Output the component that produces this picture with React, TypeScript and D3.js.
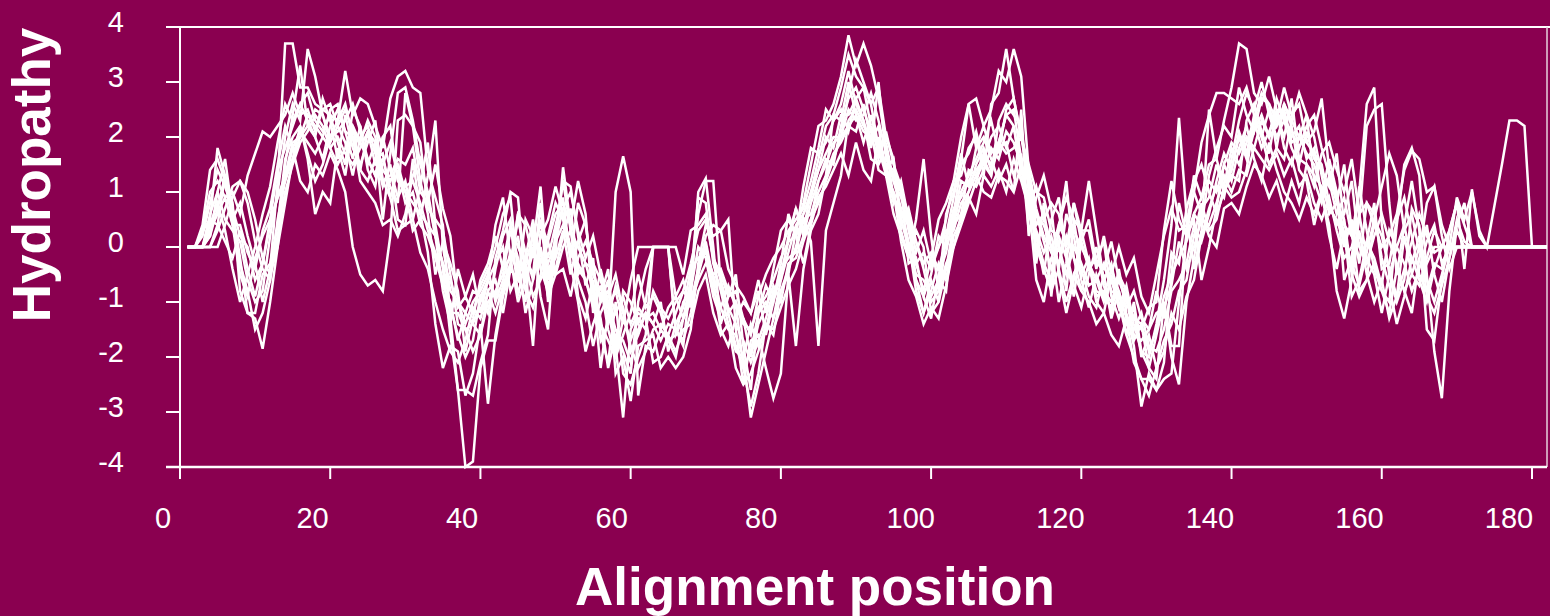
import React from "react";
import * as d3 from "d3";

// Hydropathy profiles of aligned sequences, one value per alignment position (1..182)
const seqA = [
  0, 0, 0.4, 1.4, 1.6, 1.2, 0.5, 0.8, 0.2, -0.3,
  -1.0, -0.4, 1.2, 3.7, 3.7, 2.9, 2.9, 2.6, 2.5, 2.4,
  2.3, 3.2, 2.4, 2.7, 2.6, 2.2, 1.8, 2.7, 3.1, 3.2,
  2.9, 2.8, 1.4, 0.9, 0.4, -1.3, -2.6, -2.6, -2.7, -2.1,
  -1.6, -0.2, 0.3, 1.0, 0.9, -0.6, 0.0, 1.1, -0.6, 0.2,
  1.2, 1.1, 0.2, -0.7, -0.2, -1.6, -2.1, -1.0, -2.3, -2.5,
  -2.0, -1.6, 0, 0, 0, -1.5, -1.8, -0.6, 0.6, 1.2,
  1.2, -0.7, -1.2, -1.0, -2.2, -2.9, -2.3, -1.4, -1.6, -0.8,
  -0.5, 0.3, 0.8, 1.5, 2.2, 2.3, 2.6, 3.1, 3.85, 3.3,
  3.7, 3.3, 2.7, 1.9, 1.2, 0.7, 0.1, -0.8, -1.2, -0.6,
  -1.0, 0.2, 0.9, 1.6, 2.6, 2.7, 2.2, 2.5, 3.2, 3.0,
  3.6, 3.1, 1.4, -0.3, 0.8, -0.9, 0.4, 0.9, 0.5, -0.4,
  -0.9, -1.1, -0.5, -1.3, -0.8, -1.6, -2.0, -2.4, -2.4, -2.6,
  -2.1, -0.5, 0.8, 0.2, 1.0, 1.9, 2.4, 2.8, 2.8, 2.7,
  2.6, 2.9, 2.4, 2.0, 2.5, 2.2, 2.6, 2.3, 2.0, 1.9,
  2.1, 2.7, 1.4, 1.0, 0.2, -0.4, 0.5, 2.2, 2.5, 2.6,
  0.8, -0.5, 0.4, 1.2, 0.3, -1.5, -1.7, -0.6, 0.3, 0.8,
  0.4, 0, 0, 0, 0, 0, 0, 0, 0, 0,
  0, 0,
];

const seqB = [
  0, 0, 0, 0.5, 1.8, 1.3, 0.7, -0.2, -1.2, -1.3,
  -1.85, -1.0, 0.0, 1.5, 2.4, 3.3, 2.2, 2.0, 1.6, 2.2,
  2.5, 2.1, 1.6, 2.2, 1.5, 1.9, 0.5, 1.7, 2.8, 2.9,
  2.3, 1.5, 1.0, 0.2, -0.3, -1.1, -1.6, -2.0, -1.7, -0.9,
  -1.2, -0.4, 0.2, 0.5, -0.9, -0.2, -0.5, 0.8, -1.0, -0.1,
  1.45, 0.4, -0.9, -1.3, -0.6, -1.7, -1.4, 1.0, 1.65, 1.0,
  -2.7, -1.8, -1.9, -1.5, -1.7, -2.0, -1.3, -0.6, 0.9, 0.8,
  -0.3, -0.8, -1.4, -1.9, -2.0, -3.1, -2.5, -1.9, -1.3, -0.6,
  0.2, 0.7, 0.3, 1.0, 1.6, 2.2, 2.4, 2.9, 3.5, 3.1,
  2.9, 2.6, 1.8, 1.4, 1.6, 0.5, 0.0, -0.6, -0.9, -1.3,
  -0.5, -0.1, 0.6, 1.5, 1.7, 2.1, 1.5, 1.3, 2.3, 2.6,
  2.4, 2.2, 1.0, 0.2, -0.3, -0.6, 0.3, 1.2, -0.2, -0.8,
  -0.3, -1.0, -1.2, -0.5, -1.1, -0.7, -1.4, -1.9, -2.2, -1.6,
  -1.0, -1.8, -1.8, 0.3, 1.3, 0.9, 1.5, 1.6, 2.3, 2.9,
  3.7, 3.6, 2.8, 2.6, 3.1, 2.5, 2.4, 2.0, 2.2, 1.6,
  1.8, 0.9, 1.6, 1.0, -0.6, -0.2, 1.1, 0.3, -0.4, -0.8,
  -1.0, 0.4, 1.5, 1.8, 1.3, -0.5, -1.9, -2.75, -0.8, 0.4,
  0.8, 0, 0, 0, 0, 0, 0, 0, 0, 0,
  0, 0,
];

const seqC = [
  0, 0, 0.3, 1.0, 1.2, 0.9, 1.0, 0.6, 1.3, 1.7,
  2.1, 2.0, 2.2, 2.4, 2.8, 2.4, 2.5, 2.1, 2.5, 2.6,
  2.2, 1.9, 1.3, 2.0, 2.2, 1.7, 1.1, 1.5, 0.5, 0.4,
  1.6, 0.6, -0.1, -1.4, -2.2, -1.8, -1.9, -2.7, -2.3, -1.4,
  -2.85, -1.6, -0.8, -0.3, 0.6, -0.4, -1.8, 0.3, -0.2, 0.4,
  0.9, -0.3, -1.0, -1.9, -1.4, -1.0, -0.6, -2.3, -2.0, -2.8,
  -1.8, -1.7, -1.6, -2.2, -2.0, -2.2, -2.0, -1.5, -0.3, 0.4,
  0.2, 0.3, 0.5, -1.5, -2.5, -1.7, -1.6, -2.2, -2.75, -2.3,
  -0.5, -1.8, -0.4, 0.3, 0.6, 1.3, 2.4, 2.3, 3.0, 2.4,
  1.9, 2.4, 1.8, 1.3, 0.6, 0.2, -0.2, 0.3, 0.0, -1.2,
  -1.0, -0.4, 0.4, 1.0, 1.3, 1.6, 1.9, 2.3, 1.7, 2.5,
  2.7, 2.0, 1.2, 0.6, 0.4, 0.0, -1.0, -0.3, 0.8, 0.1,
  -0.4, -0.2, 0.1, -0.9, -1.3, -0.9, -1.7, -1.4, -2.2, -2.4,
  -1.0, -2.0, -2.5, -1.0, -0.2, 0.7, 0.9, 1.5, 1.0, 1.4,
  2.1, 1.7, 2.4, 2.0, 1.5, 1.8, 2.6, 2.2, 1.4, 1.2,
  0.4, 1.0, 0.2, -0.4, 0.3, -0.9, -0.6, 0.1, 0.8, -0.4,
  -0.3, 0.5, 0.9, 0.2, -0.5, -0.8, -0.3, -0.4, 0, 0,
  0, 0, 0, 0, 0, 0, 0, 0, 0, 0,
  0, 0,
];

const seqD = [
  0, 0, 0, 0.2, 0.7, 1.3, 0.4, 0.4, -0.1, -0.4,
  0.3, 0.7, 1.5, 2.2, 1.8, 1.2, 1.0, 1.5, 1.3, 1.7,
  1.4, 1.0, 0.0, -0.5, -0.7, -0.6, -0.8, 0.2, 2.3, 2.4,
  2.2, 1.2, 0.6, -0.5, 0.1, -0.3, -0.8, -1.9, -1.3, -0.6,
  -0.3, 0.2, -0.4, -0.2, 0.2, -0.8, -1.1, -0.5, 0.1, 0.6,
  0.8, 0.4, 1.2, 0.6, -1.2, -0.4, -1.0, -1.5, -1.9, -2.3,
  -1.0, -0.4, 0, 0, 0, -1.6, -1.3, -0.9, 1.0, 1.25,
  0.0, -1.4, -0.9, -0.5, -1.8, -2.6, -1.2, -0.7, -1.0, -0.3,
  0.6, 0.2, 1.1, 1.8, 1.7, 1.9, 2.3, 2.5, 2.1, 2.7,
  2.3, 1.6, 1.5, 1.8, 0.9, 0.6, 0.4, -0.3, -0.8, -0.2,
  0.5, 0.8, 1.2, 2.0, 2.6, 1.8, 2.0, 1.6, 1.2, 1.5,
  1.0, 2.5, 0.2, 0.9, 1.3, 0.7, -0.5, -1.2, -0.6, 0.3,
  1.2, 0.3, -0.6, -0.3, -1.0, -1.6, -1.0, -1.9, -2.0, -1.4,
  -0.6, 0.4, 2.35, 0.6, -0.4, 0.3, 2.5, 1.6, 1.1, 0.9,
  1.0, 1.4, 2.3, 2.8, 2.6, 1.8, 1.6, 2.3, 2.8, 2.4,
  2.0, 1.3, 0.6, 0.8, 1.5, 0.3, -0.8, -0.6, 0.5, 1.1,
  1.7, 1.3, 0.3, 0.6, -0.1, 0.8, 1.1, 0.2, -0.4, 0,
  0, 0, 0, 0, 0, 0, 0, 0, 0, 0,
  0, 0,
];

const seqE = [
  0, 0, 0, 0, 0.4, 1.3, 0.8, -0.8, -1.2, -1.2,
  -0.5, -0.3, 0.4, 1.6, 2.0, 2.2, 1.6, 0.6, 1.0, 0.8,
  1.8, 1.3, 2.2, 1.4, 1.2, 1.6, 1.7, 0.9, 0.3, 0.4,
  0.5, 1.1, 1.9, 0.4, -0.4, -1.6, -2.6, -4.0, -3.9, -2.2,
  -1.7, -1.7, -0.9, -0.4, 0.6, 0.4, -0.2, 0.5, -0.4, -0.2,
  0.3, -0.5, 0.1, 0.5, -0.8, -1.3, -2.2, -1.6, -1.7, -2.1,
  -1.5, -1.2, -1.4, -1.0, -1.9, -1.4, -1.1, -0.4, -0.2, -0.1,
  -0.5, -1.1, -1.5, -1.6, -2.0, -1.4, -1.8, -1.5, -0.9, -0.4,
  -0.2, -0.1, 0.5, 0.1, -1.8, 0.3, 0.8, 1.3, 2.3, 2.5,
  2.2, 2.0, 1.6, 2.1, 1.5, 1.1, -0.3, -0.2, -0.9, -0.5,
  0.2, 0.0, 0.4, 0.6, 1.4, 1.3, 1.0, 0.9, 1.3, 1.2,
  1.0, 1.5, 0.8, -0.6, -1.0, -0.2, 0.1, -0.8, 0.5, 0.3,
  -0.3, -0.8, -0.9, -1.1, -0.4, -1.2, -1.8, -2.9, -2.3, -2.6,
  -2.4, -2.3, -1.0, 0.2, 0.5, -0.6, 0.0, 0.7, 1.5, 1.2,
  1.8, 2.2, 1.6, 1.2, 1.9, 1.4, 1.0, 0.8, 0.5, 0.9,
  0.6, 1.0, 0.4, -0.8, -1.3, -0.6, 0.3, -0.5, -1.0, -0.6,
  -1.3, -0.9, 0.2, -0.5, -0.7, -0.2, 0.3, 0.0, 0, 0,
  0, 0, 0, 0, 0, 0, 0, 0, 0, 0,
  0, 0,
];

const seqF = [
  0, 0, 0, 0.6, 1.0, 0.5, 0.3, 0.1, -0.6, -1.0,
  -0.8, 0.2, 1.0, 2.0, 2.6, 2.3, 3.6, 3.1, 2.4, 2.0,
  2.1, 2.3, 2.6, 2.1, 1.6, 1.3, 2.0, 2.2, 1.2, 1.0,
  0.3, 0.5, 1.3, 2.3, 0.0, -0.8, -1.0, -1.2, -1.4, -1.6,
  -0.8, -0.6, -1.2, -0.4, -0.6, 0.5, 0.2, -0.9, -1.5, 0.3,
  1.2, 0.3, 0.0, -0.3, -0.8, -2.2, -1.2, -1.8, -3.1, -1.5,
  -1.2, -1.3, -2.1, -2.0, -1.6, -1.2, -0.8, -1.0, -0.4, 0.1,
  -0.6, -1.5, -1.8, -1.3, -1.0, -1.2, -0.8, -1.6, -1.0, -0.5,
  0.1, 0.7, 0.2, 0.5, 1.2, 1.5, 1.9, 2.0, 2.8, 3.4,
  3.0, 2.6, 2.9, 2.0, 1.6, 0.3, -0.2, 0.5, 1.6, 0.2,
  -0.8, 0.6, 1.0, 1.7, 1.1, 1.8, 2.2, 1.7, 1.9, 2.4,
  2.5, 1.6, 0.6, 0.2, -0.5, 0.5, 0.9, -0.1, -0.7, -1.1,
  -0.5, 0.0, -0.7, -1.2, -0.5, -0.8, -1.6, -1.7, -1.5, -0.8,
  -1.3, -0.1, -0.3, 0.7, 1.2, 1.5, 1.0, 0.6, 1.0, 1.3,
  1.2, 2.3, 2.6, 2.1, 1.7, 2.5, 1.8, 1.5, 2.0, 2.4,
  1.2, 0.8, 1.3, 0.9, 0.0, 0.5, -0.3, 0.8, 0.6, -0.2,
  -0.7, -1.4, -0.9, -0.2, -0.6, -1.0, -0.4, 0.0, 0.3, 0.8,
  -0.4, 1.05, 0.2, 0, 0, 0, 0, 0, 0, 0,
  0, 0,
];

const seqG = [
  0, 0, 0.2, 0.8, 1.4, 1.1, 0.7, 0.2, 0.0, -0.6,
  -0.3, 0.4, 0.9, 1.3, 1.9, 2.0, 2.2, 2.5, 2.4, 1.9,
  2.2, 2.5, 2.1, 1.9, 2.3, 2.0, 1.2, 1.3, 1.6, 1.5,
  1.8, 1.0, 0.8, 1.5, 0.7, 0.2, -1.0, -1.4, -1.0, -0.8,
  -0.5, 0.0, 0.6, 0.9, -0.5, -1.0, 0.4, -0.3, 0.2, 0.8,
  0.5, -0.2, 0.8, 0.4, -0.5, -0.9, -0.4, -1.9, -0.8, -1.0,
  -1.4, -1.0, 0, 0, 0, 0, -0.5, 0.3, 0.4, 0.6,
  -0.2, -0.5, -0.9, -0.8, -1.3, -1.6, -0.9, -0.5, -0.2, 0.0,
  0.3, 0.5, 0.7, 1.2, 1.8, 2.5, 2.3, 2.6, 3.2, 2.6,
  2.3, 1.8, 3.0, 1.6, 1.3, 1.0, 0.6, -0.1, 0.3, -0.3,
  0.0, 0.5, 1.2, 1.3, 1.8, 2.0, 1.3, 2.6, 2.8, 3.6,
  2.7, 2.0, 1.5, 1.0, 0.9, 0.3, 0.2, -0.2, -0.9, 0.1,
  0.5, -0.3, -0.4, 0.1, -0.6, -0.9, -1.3, -1.5, -1.1, -1.0,
  0.3, 1.2, 0.5, 0.2, 0.6, 0.4, 1.3, 1.8, 2.2, 2.0,
  2.9, 2.4, 2.1, 2.7, 2.6, 2.3, 2.9, 2.4, 2.6, 1.9,
  1.7, 1.5, 0.8, 0.4, 0.6, 1.2, 0.0, -0.3, 0.2, 0.6,
  0.1, -0.3, -0.8, -1.2, -0.2, 0.4, -0.5, -1.0, -0.2, 0.3,
  0, 0, 0, 0, 0, 0, 0, 0, 0, 0,
  0, 0,
];

const seqH = [
  0, 0, 0, 0.3, 0.6, 0.9, 0.4, -0.5, -0.9, -0.2,
  0.2, 0.5, 1.4, 1.8, 2.2, 2.6, 2.3, 2.0, 2.7, 2.3,
  1.6, 2.4, 1.8, 1.5, 1.9, 2.3, 1.2, 0.9, 1.4, 0.8,
  1.0, 0.4, 0.2, -0.2, -0.7, -1.0, -1.7, -1.2, -0.8, -0.9,
  -0.6, -0.3, 0.0, -0.8, -0.5, -0.2, 0.5, -0.4, -0.8, 0.1,
  0.7, 1.0, 0.3, -0.2, 0.2, -0.5, -1.3, -0.7, -1.1, -1.9,
  -1.6, -1.2, -1.4, -1.7, -1.4, -1.5, -1.7, -1.2, -0.5, 0.0,
  -0.8, -1.1, -0.7, -1.1, -1.3, -2.0, -1.4, -1.1, -0.7, -1.0,
  -0.3, -0.2, 0.2, 0.8, 1.2, 1.6, 1.5, 2.2, 2.7, 2.9,
  2.5, 2.1, 1.4, 1.3, 1.0, 0.4, 0.7, 0.1, -0.4, -1.0,
  -0.8, -0.3, 0.0, 0.6, 1.0, 1.5, 1.8, 1.4, 1.8, 1.9,
  1.3, 1.7, 0.3, 0.6, 0.1, -0.4, 0.0, -0.5, 0.0, -0.3,
  -0.7, -0.6, -1.0, -0.6, -1.1, -1.4, -1.1, -2.0, -1.6, -2.2,
  -1.7, -1.4, -0.8, -0.6, 0.2, 0.8, 0.3, 0.5, 1.1, 1.8,
  1.5, 1.9, 2.3, 1.8, 2.1, 2.4, 2.0, 2.7, 1.6, 1.5,
  1.3, 1.1, 0.7, 0.5, 0.1, -0.3, -0.7, -0.1, 0.5, 0.2,
  -0.4, -0.9, -0.4, 0.1, 0.6, 0.2, -0.1, 0, 0, 0,
  0, 0, 0, 0, 0, 0, 0, 0, 0, 0,
  0, 0,
];

const seqI = [
  0, 0, 0, 0.2, 1.0, 1.6, 0.6, -0.3, -0.8, -1.5,
  -1.2, -0.6, 0.5, 1.2, 1.8, 2.1, 1.9, 1.7, 2.0, 2.5,
  2.6, 2.1, 2.0, 1.4, 2.1, 1.5, 1.6, 1.1, 0.8, 2.8,
  2.2, 1.9, 0.7, 0.5, 0.3, -0.5, -1.4, -1.5, -1.9, -1.6,
  -1.0, -0.8, -0.5, 0.3, -0.2, -1.2, -0.6, 0.0, -0.7, -0.4,
  0.2, 0.7, -0.4, -0.6, -1.0, -1.4, -1.7, -2.0, -1.6, -1.2,
  -0.5, -1.1, -0.9, -1.2, -1.7, -1.6, -1.0, -0.8, 0.0, -0.2,
  -0.9, -1.3, -1.2, -1.8, -2.2, -1.9, -1.2, -1.0, -1.3, -0.8,
  -0.4, 0.0, 0.6, 1.0, 1.4, 2.0, 1.8, 2.4, 2.4, 2.7,
  2.9, 2.2, 1.7, 1.5, 0.9, 0.5, 0.0, -0.5, -0.6, -0.9,
  -0.6, -0.8, 0.5, 1.2, 1.1, 1.4, 1.6, 2.0, 2.2, 1.8,
  2.2, 1.3, 0.7, 0.3, -0.1, 0.2, -0.4, 0.6, 0.2, -0.6,
  -1.1, -0.5, -0.9, -0.4, -0.8, -1.3, -1.5, -1.2, -1.8, -1.9,
  -1.5, -0.8, -0.6, -0.3, 0.4, 0.1, 0.6, 1.2, 1.7, 1.4,
  2.0, 1.6, 2.1, 2.4, 2.0, 2.7, 2.3, 1.8, 1.5, 2.1,
  1.6, 1.4, 1.1, 1.7, 0.4, 0.2, 1.0, 2.6, 2.9, 0.4,
  -0.5, -1.0, -0.6, 0.7, 0.4, -0.9, -1.2, -0.7, -0.2, 0.5,
  0.1, 0, 0, 0, 0, 0, 0, 0, 0, 0,
  0, 0,
];

const seqJ = [
  0, 0, 0, 0, 0.3, 0.7, 1.1, 1.2, 0.8, 0.1,
  -0.4, -0.6, 0.2, 1.0, 1.5, 1.9, 2.1, 2.4, 2.2, 1.8,
  1.5, 1.8, 2.2, 1.9, 1.6, 1.3, 1.5, 1.9, 1.3, 1.1,
  1.2, 0.8, 0.3, -0.1, -0.6, -1.2, -1.2, -1.5, -1.4, -1.0,
  -0.6, -0.9, -0.3, 0.4, 0.0, -0.3, -0.9, -0.6, -0.3, 0.1,
  0.4, -0.1, -0.3, -0.6, -1.1, -0.7, -1.5, -2.0, -1.3, -1.7,
  -1.3, -1.5, -0.8, -1.1, -1.3, -1.0, -0.8, -0.3, 0.3, 0.5,
  -0.2, -0.6, -1.1, -1.4, -1.7, -2.1, -1.7, -1.3, -0.8, -0.6,
  -0.1, 0.4, 0.6, 0.9, 1.4, 1.7, 2.0, 2.0, 2.5, 2.3,
  2.4, 2.8, 2.3, 1.7, 1.2, 0.9, 0.4, 0.1, -0.3, -0.1,
  -0.4, 0.1, 0.7, 0.9, 1.2, 1.1, 1.4, 1.8, 1.6, 2.1,
  1.9, 1.5, 1.2, 0.4, 0.6, 0.0, -0.3, 0.2, -0.2, -0.5,
  -0.2, -0.9, -0.8, -1.0, -0.6, -1.0, -1.3, -1.4, -1.9, -1.5,
  -0.9, -0.5, -0.2, 0.1, 0.6, 0.9, 1.2, 1.0, 1.5, 1.9,
  1.7, 2.0, 1.8, 2.3, 2.0, 2.2, 2.5, 1.9, 2.0, 1.7,
  1.5, 1.0, 1.2, 0.6, 0.9, 0.2, -0.2, 0.1, -0.2, -0.7,
  0.3, 0.0, -0.3, -0.8, -0.4, 0.1, 0.4, -0.3, 0, 0,
  0, 0, 0, 0, 0, 0, 0, 0, 0, 0,
  0, 0,
];

const seqK = [
  0, 0, 0, 0, 0, 0.4, 0.9, 1.2, 1.0, 0.5,
  -0.2, -0.5, 0.0, 0.8, 1.6, 2.0, 2.4, 2.2, 2.0, 1.8,
  2.0, 1.7, 1.5, 1.8, 2.1, 1.9, 1.4, 1.2, 1.5, 1.0,
  0.8, 0.6, 0.4, 0.2, -0.3, -0.6, -1.1, -0.9, -1.2, -0.7,
  -0.4, -1.0, -0.6, -0.1, -0.5, -0.3, 0.2, -0.1, -0.9, -0.5,
  0.0, 0.3, -0.5, -0.3, -0.4, -1.0, -0.8, -1.2, -0.9, -1.4,
  -1.1, -1.3, -1.2, -1.5, -1.1, -0.9, -1.3, -1.0, -0.6, -0.3,
  -0.5, -0.4, -0.8, -1.0, -1.4, -1.5, -1.1, -0.9, -0.6, -0.2,
  0.1, 0.2, 0.5, 0.6, 1.0, 1.3, 1.7, 1.9, 2.2, 2.4,
  2.1, 2.0, 1.9, 1.5, 1.4, 1.0, 0.3, -0.3, -0.1, -0.4,
  0.0, 0.3, 0.3, 0.8, 1.0, 1.3, 1.7, 1.5, 1.9, 1.7,
  1.8, 2.0, 1.4, 0.7, 0.2, -0.1, 0.4, 0.1, 0.3, 0.0,
  -0.3, -0.6, -0.3, -0.8, -0.9, -1.1, -0.8, -1.3, -1.5, -1.2,
  -1.1, -0.7, 0.1, -0.4, 0.0, 0.5, 0.4, 0.8, 1.3, 1.0,
  1.4, 1.3, 1.8, 1.6, 1.4, 1.7, 1.3, 1.6, 1.1, 1.3,
  0.8, 0.5, 0.9, 0.3, -0.2, 0.0, 0.6, 0.8, 0.4, 0.0,
  0.2, 0.6, 1.4, 1.75, 1.6, 1.0, 1.1, 0.4, 0.0, 0.9,
  0.5, 1.0, 0.3, 0.0, 0.75, 1.5, 2.3, 2.3, 2.2, 0,
  0, 0,
];

const seqL = [
  0, 0, 0.3, 0.5, 0.4, 0.1, -0.2, 0.3, -0.4, -0.9,
  -0.3, 0.5, 0.9, 1.2, 1.6, 2.2, 1.7, 1.2, 1.5, 2.0,
  2.3, 2.6, 2.0, 1.2, 1.0, 0.8, 0.4, 0.5, 0.2, 0.6,
  1.3, 1.6, 0.9, 0.2, -0.8, -1.4, -0.4, -0.9, -0.5, -1.2,
  -0.6, 0.4, 0.9, -0.2, -1.0, -0.6, -0.1, 0.4, 0.1, -0.5,
  -0.4, -0.9, -0.2, 0.1, -0.3, -0.6, -1.1, -0.8, -1.4, -0.6,
  0, 0, 0, 0, 0, -0.9, -0.6, -1.1, -0.5, 0.2,
  0.4, 0.3, -0.4, -0.7, -0.9, -1.2, -0.6, -1.2, -0.4, 0.3,
  0.5, 0.2, -0.3, 0.4, 0.9, 1.1, 1.4, 1.7, 1.3, 1.9,
  1.4, 1.2, 2.0, 1.4, 0.8, 1.2, 0.5, -0.6, -1.2, -0.8,
  -0.3, -0.6, 0.2, 0.5, 0.9, 0.6, 1.3, 1.1, 1.4, 1.0,
  1.6, 1.2, 0.7, 1.1, 0.5, 0.8, 0.6, 0.0, 0.8, 0.3,
  0.3, -0.4, 0.2, -0.5, 0.0, -0.5, -0.2, -0.9, -1.2, -0.5,
  0.2, 0.7, 0.3, 0.4, 1.0, 0.6, 0.2, 0.0, 0.7, 0.8,
  0.6, 1.1, 1.5, 1.3, 0.9, 1.2, 0.7, 1.2, 0.8, 1.5,
  1.1, 1.7, 1.9, 1.4, 1.0, 1.6, 0.6, -0.2, -0.5, -1.2,
  -0.5, 0.0, 0.4, -0.3, 0.2, -0.6, -1.0, -0.5, 0.0, 0,
  0, 0, 0, 0, 0, 0, 0, 0, 0, 0,
  0, 0,
];

const seqM = [
  0, 0, 0, 0.4, 0.8, 0.3, -0.4, -1.0, -0.5, 0.0,
  0.6, 1.1, 1.9, 2.6, 2.3, 2.6, 2.8, 2.3, 2.1, 2.4,
  1.9, 1.5, 2.5, 2.2, 1.4, 1.1, 2.0, 1.4, 0.9, 1.2,
  0.5, -0.1, -0.4, -1.0, -1.5, -1.9, -2.1, -1.7, -1.1, -1.3,
  -0.8, -1.2, -0.7, -0.3, 0.5, -0.1, -0.6, 0.2, 0.5, 1.1,
  0.6, 0.0, -0.6, -1.0, -1.8, -1.2, -0.9, -0.5, -1.2, -1.8,
  -2.2, -1.9, -1.5, -1.4, -1.6, -1.9, -1.5, -1.4, -0.8, -0.5,
  -1.2, -1.6, -1.4, -2.2, -2.5, -2.3, -1.9, -1.4, -1.5, -1.1,
  -0.7, -0.4, 0.1, 0.5, 0.8, 1.2, 1.6, 2.0, 2.2, 2.1,
  2.6, 1.9, 2.2, 1.3, 1.0, 0.1, -0.6, -0.9, -1.4, -1.1,
  -1.3, -0.7, 0.0, 0.4, 0.8, 1.2, 1.6, 1.3, 1.9, 2.4,
  2.2, 1.4, 0.9, 0.0, -0.4, -0.8, -0.4, -1.0, -0.5, -0.8,
  -1.0, -1.4, -1.2, -1.6, -1.8, -1.3, -2.1, -2.4, -2.7, -2.2,
  -1.9, -1.2, -1.5, -0.9, -0.6, 0.2, 0.7, 1.1, 0.9, 1.6,
  2.3, 2.8, 2.5, 3.0, 2.4, 2.0, 2.3, 2.1, 1.8, 2.2,
  2.4, 1.8, 1.3, 0.8, 0.5, -0.5, -0.9, -0.6, -0.3, -0.8,
  -1.2, -0.4, -0.8, -0.5, 0.0, -0.3, 0, 0, 0, 0,
  0, 0, 0, 0, 0, 0, 0, 0, 0, 0,
  0, 0,
];

const profiles = [seqA, seqB, seqC, seqD, seqE, seqF, seqG, seqH, seqI, seqJ, seqK, seqL, seqM];
const yTicks = [4, 3, 2, 1, 0, -1, -2, -3, -4];
const xTicks = [0, 20, 40, 60, 80, 100, 120, 140, 160, 180];

const W = 1550;
const H = 616;
const BG = "#8A0050";
const FONT = "'Liberation Sans', Arial, sans-serif";

export default function App() {
  const left = 180;
  const right = 1547;
  const top = 27;
  const bottom = 467;

  const x = d3.scaleLinear().domain([0, 182]).range([left, right]);
  const y = d3.scaleLinear().domain([-4, 4]).range([bottom, top]);

  const line = d3
    .line<number>()
    .x((_, i) => x(i + 1))
    .y((v) => y(v));

  return (
    <svg
      width={W}
      height={H}
      style={{ position: "absolute", left: 0, top: 0, display: "block" }}
    >
      <rect x={0} y={0} width={W} height={H} fill={BG} />

      {/* plot frame */}
      <line x1={166} x2={W} y1={top} y2={top} stroke="#fff" strokeWidth={2} />
      <line x1={right} x2={right} y1={top} y2={bottom} stroke="#e6d0dc" strokeWidth={1.5} />

      {/* profiles */}
      <g fill="none" stroke="#fff" strokeWidth={2.5} strokeLinejoin="miter">
        {profiles.map((p, i) => (
          <path key={i} d={line(p) || ""} />
        ))}
      </g>

      {/* y axis */}
      <line x1={left} x2={left} y1={top} y2={bottom + 12} stroke="#fff" strokeWidth={2} />
      {yTicks.map((t) => (
        <g key={t}>
          <line x1={166} x2={left} y1={y(t)} y2={y(t)} stroke="#fff" strokeWidth={2} />
          <text
            x={124}
            y={y(t) + 5}
            textAnchor="end"
            fill="#fff"
            fontFamily={FONT}
            fontSize={29}
          >
            {t}
          </text>
        </g>
      ))}

      {/* x axis */}
      <line x1={166} x2={right} y1={bottom} y2={bottom} stroke="#fff" strokeWidth={2.5} />
      {xTicks.map((t) => (
        <g key={t}>
          <line x1={x(t)} x2={x(t)} y1={bottom} y2={bottom + 12} stroke="#fff" strokeWidth={2} />
          <text
            x={x(t) - 17 - t * 0.033}
            y={528}
            textAnchor="middle"
            fill="#fff"
            fontFamily={FONT}
            fontSize={29}
          >
            {t}
          </text>
        </g>
      ))}

      <text
        transform="translate(50,175) rotate(-90)"
        textAnchor="middle"
        fill="#fff"
        fontFamily={FONT}
        fontWeight="bold"
        fontSize={53}
      >
        Hydropathy
      </text>
      <text
        x={815}
        y={605}
        textAnchor="middle"
        fill="#fff"
        fontFamily={FONT}
        fontWeight="bold"
        fontSize={53}
      >
        Alignment position
      </text>
    </svg>
  );
}
